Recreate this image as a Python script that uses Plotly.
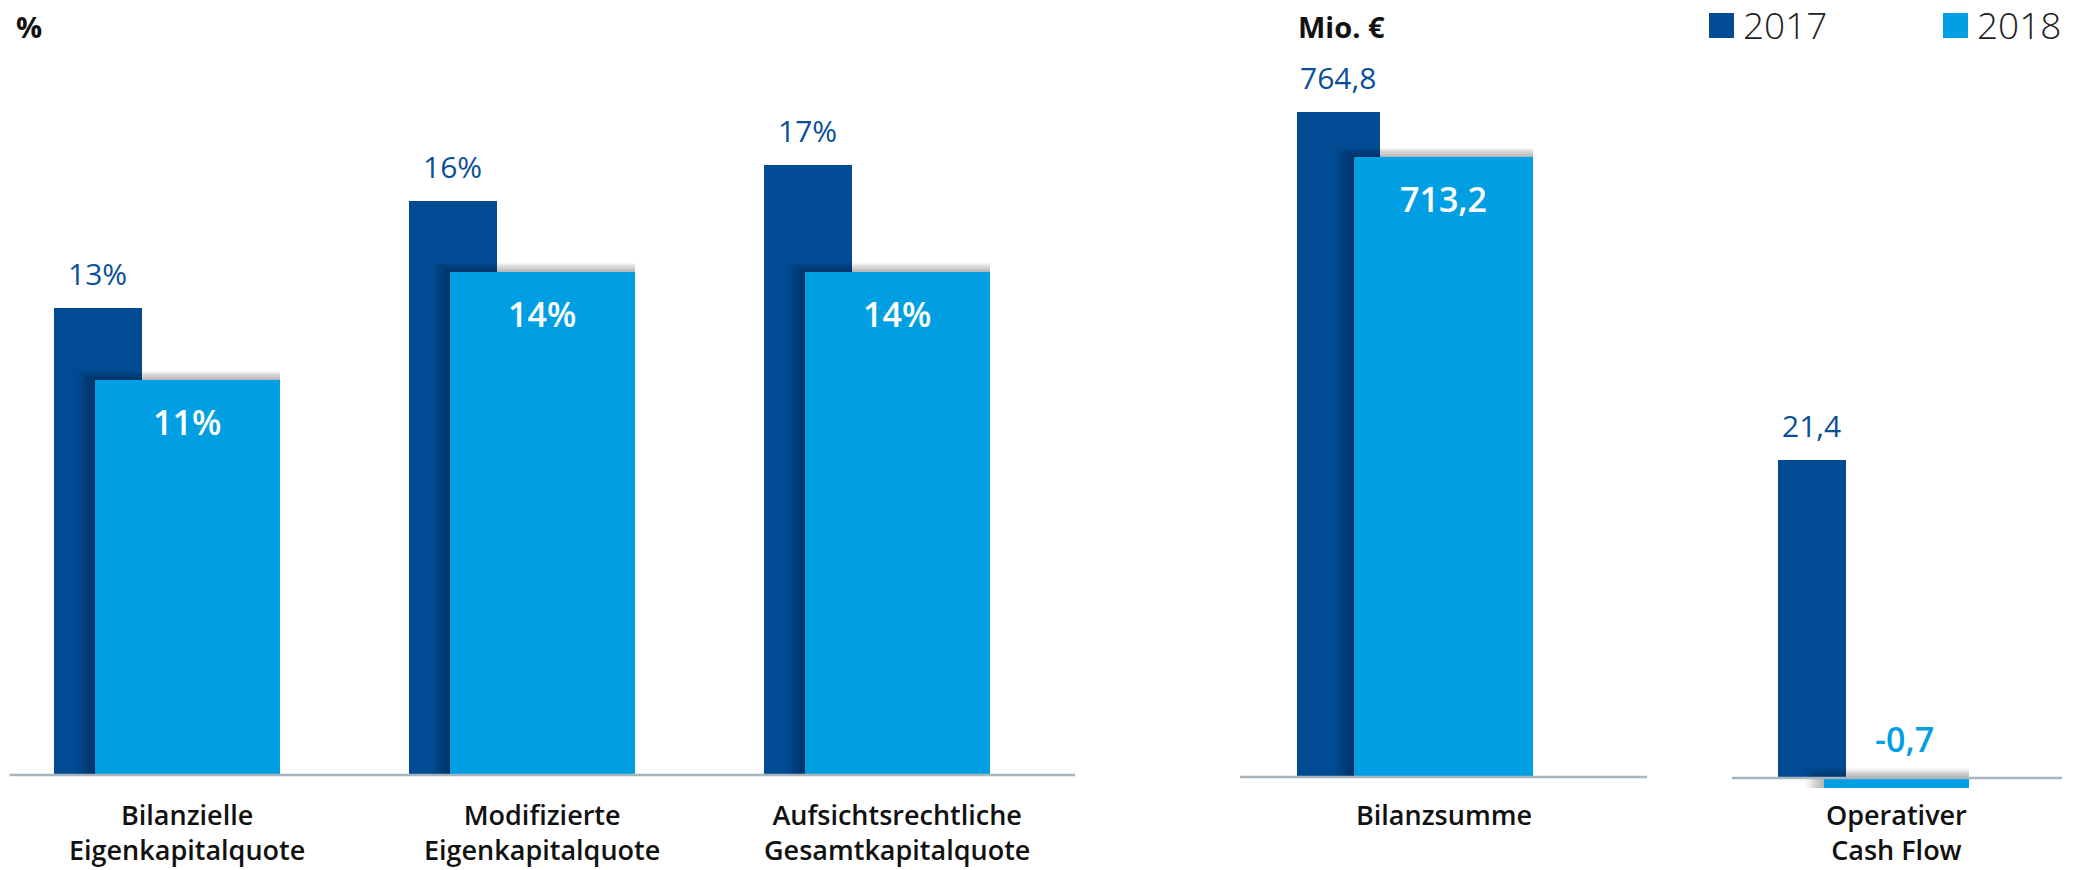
import plotly.graph_objects as go

W, H = 2085, 870

# ---------------- data ----------------
pct_categories = ["Bilanzielle<br>Eigenkapitalquote",
                  "Modifizierte<br>Eigenkapitalquote",
                  "Aufsichtsrechtliche<br>Gesamtkapitalquote"]
pct_2017 = [13, 16, 17]
pct_2018 = [11, 14, 14]

bil_categories = ["Bilanzsumme"]
bil_2017 = [764.8]
bil_2018 = [713.2]

cf_categories = ["Operativer<br>Cash Flow"]
cf_2017 = [21.4]
cf_2018 = [-0.7]

years = ["2017", "2018"]
unit_titles = ["%", "Mio. €"]

# ---------------- style ----------------
DARK = "#004b93"
LIGHT = "#009fe3"
DARK_TXT = "#0b4f99"
LINE = "#a8b5bf"
FONT = "Open Sans"


def px_x(p):
    return p / W


def px_y(p):
    return 1 - p / H


def fmt_pct(v):
    return f"{v:.0f}%"


def fmt_mio(v):
    return f"{v:.1f}".replace(".", ",")


panels = [
    dict(cats=pct_categories, v17=pct_2017, v18=pct_2018, fmt=fmt_pct,
         dom=(9.5, 1075), base=775, scale=35.9,
         od=-0.3775, wd=0.248, ol=-0.2606, wl=0.521),
    dict(cats=bil_categories, v17=bil_2017, v18=bil_2018, fmt=fmt_mio,
         dom=(1240, 1647), base=777, scale=0.869,
         od=-0.361, wd=0.206, ol=-0.22, wl=0.441),
    dict(cats=cf_categories, v17=cf_2017, v18=cf_2018, fmt=fmt_mio,
         dom=(1732, 2062), base=778, scale=14.87,
         od=-0.3606, wd=0.206, ol=-0.221, wl=0.439),
]

fig = go.Figure()
annotations = []
shapes = []
layout_axes = {}

for idx, p in enumerate(panels):
    n = len(p["cats"])
    ax = "" if idx == 0 else str(idx + 1)
    xref, yref = "x" + ax, "y" + ax
    pux = (p["dom"][1] - p["dom"][0]) / n
    s = p["scale"]
    positions = list(range(n))

    layout_axes["xaxis" + ax] = dict(
        domain=[px_x(p["dom"][0]), px_x(p["dom"][1])], range=[-0.5, n - 0.5],
        visible=False, fixedrange=True, anchor=yref)
    layout_axes["yaxis" + ax] = dict(
        domain=[0, 1], range=[-(H - p["base"]) / s, p["base"] / s],
        visible=False, fixedrange=True, anchor=xref)

    # 2017 bars (behind)
    fig.add_trace(go.Bar(x=positions, y=p["v17"], offset=p["od"], width=p["wd"],
                         marker=dict(color=DARK, line=dict(width=0)),
                         xaxis=xref, yaxis=yref, name=years[0], showlegend=False,
                         hoverinfo="skip"))
    # soft shadow of 2018 bars
    for k in range(1, 9):
        ext_x = 2.2 * k
        ext_y = 1.2 * k
        fig.add_trace(go.Bar(
            x=positions,
            y=[abs(v) + ext_y / s for v in p["v18"]],
            base=[min(0, v) for v in p["v18"]],
            offset=p["ol"] - ext_x / pux, width=p["wl"] + ext_x / pux,
            marker=dict(color="rgba(0,0,0,0.04)", line=dict(width=0)),
            xaxis=xref, yaxis=yref, showlegend=False, hoverinfo="skip"))
    # 2018 bars (front)
    fig.add_trace(go.Bar(x=positions, y=p["v18"], offset=p["ol"], width=p["wl"],
                         marker=dict(color=LIGHT, line=dict(width=0)),
                         xaxis=xref, yaxis=yref, name=years[1], showlegend=False,
                         hoverinfo="skip"))

    # baseline
    shapes.append(dict(type="line", xref=xref + " domain", yref=yref,
                       x0=0, x1=1, y0=0, y1=0, layer="above",
                       line=dict(color=LINE, width=2.5)))

    for i in positions:
        v17, v18 = p["v17"][i], p["v18"][i]
        annotations.append(dict(
            x=i + p["od"] + p["wd"] / 2, y=v17, xref=xref, yref=yref,
            text=p["fmt"](v17), showarrow=False, yanchor="bottom", yshift=12,
            font=dict(family=FONT, size=30, color=DARK_TXT)))
        if v18 >= 0:
            annotations.append(dict(
                x=i + p["ol"] + p["wl"] / 2, y=v18, xref=xref, yref=yref,
                text=p["fmt"](v18), showarrow=False,
                yanchor="middle", yshift=-42,
                font=dict(family=FONT, size=34, color="white", weight=600)))
        else:
            annotations.append(dict(
                x=i + p["ol"] + p["wl"] / 2, y=0, xref=xref, yref=yref,
                text=p["fmt"](v18), showarrow=False,
                yanchor="middle", yshift=39, xshift=8,
                font=dict(family=FONT, size=34, color=LIGHT, weight=600)))
        # category label
        annotations.append(dict(
            x=i + p["ol"] + p["wl"] / 2, y=px_y(794), xref=xref, yref="paper",
            text=p["cats"][i], showarrow=False, yanchor="top", align="center",
            font=dict(family=FONT, size=27, color="#111111", weight=600)))

# unit titles
annotations.append(dict(x=px_x(14), y=px_y(27), xref="paper", yref="paper",
                        text=f"<b>{unit_titles[0]}</b>", showarrow=False,
                        xanchor="left", yanchor="middle",
                        font=dict(family=FONT, size=29, color="#111111")))
annotations.append(dict(x=px_x(1296), y=px_y(27), xref="paper", yref="paper",
                        text=f"<b>{unit_titles[1]}</b>", showarrow=False,
                        xanchor="left", yanchor="middle",
                        font=dict(family=FONT, size=29, color="#111111")))

# legend (squares + text)
for (sq_x, txt_x, col, yr) in [(1709, 1741, DARK, years[0]), (1943, 1975, LIGHT, years[1])]:
    shapes.append(dict(type="rect", xref="paper", yref="paper",
                       x0=px_x(sq_x), x1=px_x(sq_x + 25), y0=px_y(38), y1=px_y(13),
                       fillcolor=col, line=dict(width=0)))
    annotations.append(dict(x=px_x(txt_x), y=px_y(24), xref="paper", yref="paper",
                            text=yr, showarrow=False, xanchor="left", yanchor="middle",
                            font=dict(family=FONT, size=37, color="#222222", weight=300)))

fig.update_layout(
    width=W, height=H, margin=dict(l=0, r=0, t=0, b=0),
    paper_bgcolor="white", plot_bgcolor="white",
    barmode="overlay", bargap=0, showlegend=False,
    annotations=annotations, shapes=shapes, **layout_axes)

fig.write_html("out.html", config={"displayModeBar": False},
               post_script="document.body.style.margin='0';"
                           "document.body.style.overflow='hidden';")
